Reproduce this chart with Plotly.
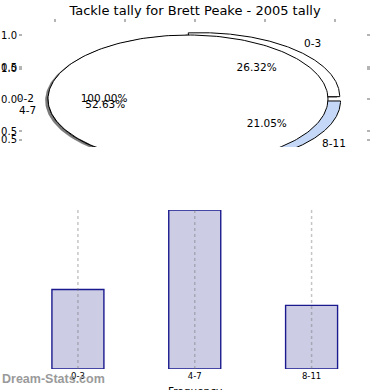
import numpy as np
import plotly.graph_objects as go

# ---------------- data ----------------
title_text = "Tackle tally for Brett Peake - 2005 tally"
categories = ["0-3", "4-7", "8-11"]
frequency = [5, 10, 4]
inner_labels = ["0-2"]
inner_values = [1]
slice_colors = ["#ffffff", "#ffffff", "#c6d8f7"]
inner_colors = ["#ffffff"]
ytick_vals = [1.0, 0.5, 0.47, 0.0, -0.5, -0.64]
ytick_text = ["1.0", "0.5", "1.0", "0.0", "0.5", "0.5"]
xtick_vals = [-1.0, -0.5, 0.0, 0.5, 1.0]

# ---------------- helpers ----------------
W = H = 390
EXPLODE = 0.05
SHADOW = (-0.02, -0.02)
FONT = "DejaVu Sans"


def px_x(p):
    return p / W


def px_y(p):
    return 1 - p / H


def pie_geometry(values, explode=EXPLODE, start=0.0):
    total = float(sum(values))
    out = []
    a = start
    for v in values:
        sweep = 360.0 * v / total
        mid = np.radians(a + sweep / 2)
        ox, oy = explode * np.cos(mid), explode * np.sin(mid)
        out.append(dict(a0=a, a1=a + sweep, mid=mid, ox=ox, oy=oy, pct=100 * v / total))
        a += sweep
    return out


def wedge_xy(g, r=1.0, dx=0.0, dy=0.0):
    t = np.radians(np.linspace(g["a0"], g["a1"], 240))
    cx, cy = g["ox"] + dx, g["oy"] + dy
    xs = cx + r * np.cos(t)
    ys = cy + r * np.sin(t)
    if g["a1"] - g["a0"] < 359.999:
        xs = np.concatenate([[cx], xs, [cx]])
        ys = np.concatenate([[cy], ys, [cy]])
    return xs, ys


outer = pie_geometry(frequency)
inner = pie_geometry(inner_values)

fig = go.Figure()

# shadows (drawn below all wedges)
for g in outer + inner:
    xs, ys = wedge_xy(g, dx=SHADOW[0], dy=SHADOW[1])
    fig.add_trace(go.Scatter(x=xs, y=ys, mode="lines", fill="toself",
                             fillcolor="rgba(77,77,77,0.5)", line=dict(width=0),
                             hoverinfo="skip", showlegend=False))

# outer pie wedges
for g, col in zip(outer, slice_colors):
    xs, ys = wedge_xy(g)
    fig.add_trace(go.Scatter(x=xs, y=ys, mode="lines", fill="toself", fillcolor=col,
                             line=dict(color="#000000", width=1),
                             hoverinfo="skip", showlegend=False))

# inner (single-slice) pie drawn on top
for g, col in zip(inner, inner_colors):
    xs, ys = wedge_xy(g)
    fig.add_trace(go.Scatter(x=xs, y=ys, mode="lines", fill="toself", fillcolor=col,
                             line=dict(color="#000000", width=1),
                             hoverinfo="skip", showlegend=False))

# labels and percentages
lab_x, lab_y, lab_t, lab_pos = [], [], [], []
pct_x, pct_y, pct_t = [], [], []
for geo, labels in ((outer, categories), (inner, inner_labels)):
    for g, lab in zip(geo, labels):
        lx = g["ox"] + 1.1 * np.cos(g["mid"])
        ly = g["oy"] + 1.1 * np.sin(g["mid"])
        lab_x.append(lx)
        lab_y.append(ly)
        lab_t.append(lab)
        lab_pos.append("middle right" if lx > 0 else "middle left")
        pct_x.append(g["ox"] + 0.6 * np.cos(g["mid"]))
        pct_y.append(g["oy"] + 0.6 * np.sin(g["mid"]))
        pct_t.append("%.2f%%" % g["pct"])

fig.add_trace(go.Scatter(x=lab_x, y=lab_y, text=lab_t, mode="text", textposition=lab_pos,
                         textfont=dict(family=FONT, size=10.5, color="#000000"),
                         cliponaxis=False, hoverinfo="skip", showlegend=False))
fig.add_trace(go.Scatter(x=pct_x, y=pct_y, text=pct_t, mode="text", textposition="middle center",
                         textfont=dict(family=FONT, size=10.5, color="#000000"),
                         cliponaxis=False, hoverinfo="skip", showlegend=False))

# ---------------- bar chart ----------------
fig.add_trace(go.Bar(x=categories, y=frequency, width=0.445, xaxis="x2", yaxis="y2",
                     marker=dict(color="#ccccE4", line=dict(color="#1a1a8e", width=1.4)),
                     hoverinfo="skip", showlegend=False))

for c in categories:
    fig.add_shape(type="line", xref="x2", yref="y2 domain", x0=c, x1=c, y0=0, y1=1,
                  layer="above", line=dict(color="rgba(110,110,110,0.4)", width=1.5, dash="dot"))

# ---------------- layout ----------------
x_left, x_right, y_top, y_bot = 23, 366, 23, 147
cx_px, cy_px, sx, sy = 195.0, 99.0, 140.0, 64.0

fig.update_layout(
    width=W, height=H,
    margin=dict(l=0, r=0, t=0, b=0, autoexpand=False),
    paper_bgcolor="white", plot_bgcolor="rgba(0,0,0,0)",
    title=dict(text=title_text, x=0.5, xanchor="center", y=px_y(10), yanchor="middle",
               font=dict(family=FONT, size=13, color="#000000")),
    xaxis=dict(domain=[px_x(x_left), px_x(x_right)], automargin=False,
               range=[(x_left - cx_px) / sx, (x_right - cx_px) / sx],
               side="top", showgrid=False, zeroline=False, showline=False,
               tickmode="array", tickvals=xtick_vals, showticklabels=False,
               ticks="outside", ticklen=3, tickwidth=2, tickcolor="#b4b4b4"),
    yaxis=dict(domain=[px_y(y_bot), px_y(y_top)], automargin=False,
               range=[(cy_px - y_bot) / sy, (cy_px - y_top) / sy],
               showgrid=False, zeroline=False, showline=False,
               tickmode="array", tickvals=ytick_vals, ticktext=ytick_text,
               ticks="outside", ticklen=3, tickwidth=2, tickcolor="#b4b4b4",
               mirror="ticks", tickfont=dict(family=FONT, size=10, color="#000000")),
    xaxis2=dict(domain=[px_x(19.5), px_x(370)], anchor="y2", range=[-0.5, 2.5], automargin=False,
                type="category", showgrid=False, zeroline=False, showline=False,
                ticks="", tickfont=dict(family=FONT, size=8.5, color="#000000")),
    yaxis2=dict(domain=[px_y(369), px_y(210)], anchor="x2", range=[0, 10], automargin=False,
                showgrid=False, zeroline=False, showline=False, showticklabels=False),
    annotations=[
        dict(text="Frequency", xref="paper", yref="paper", x=0.5, y=px_y(391),
             xanchor="center", yanchor="middle", showarrow=False,
             font=dict(family=FONT, size=10.5, color="#000000")),
        dict(text="<b>Dream-Stats.com</b>", xref="paper", yref="paper", x=0, y=px_y(379),
             xanchor="left", yanchor="middle", showarrow=False,
             font=dict(family="Liberation Sans", size=12.5, color="#9a9a9a")),
    ],
)

fig.write_html("out.html", config={"displayModeBar": False},
               post_script="document.body.style.margin='0';document.body.style.padding='0';")
